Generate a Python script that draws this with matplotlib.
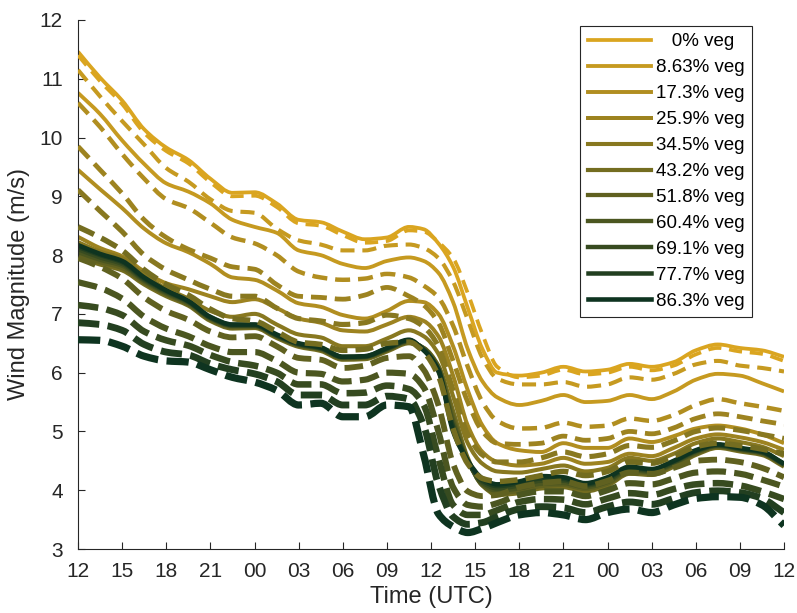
import matplotlib
matplotlib.use("Agg")
import matplotlib.pyplot as plt
from matplotlib.path import Path
from matplotlib.patches import PathPatch
from matplotlib.lines import Line2D
import numpy as np

# ---- data -------------------------------------------------------------
# hours since 00 UTC of day 1
hours = [12, 13.5, 15, 16.5, 18, 19.5, 21, 22.5, 24, 25.5, 27, 28.5, 30, 31.5,
         33, 34.5, 35.5, 36.5, 37.5, 38.5, 39.5, 40.5, 42, 43.5, 45, 46.5, 48,
         49.5, 51, 52.5, 54, 55.5, 57, 58.5, 60]

veg_labels = ["   0% veg", "8.63% veg", "17.3% veg", "25.9% veg", "34.5% veg",
              "43.2% veg", "51.8% veg", "60.4% veg", "69.1% veg", "77.7% veg",
              "86.3% veg"]

# solid curves, one per vegetation fraction
solid_0 = [11.46, 11.02, 10.63, 10.14, 9.83, 9.62, 9.30, 9.06, 9.07, 8.88, 8.60, 8.56, 8.40, 8.27,
           8.30, 8.48, 8.44, 8.20, 7.80, 7.10, 6.40, 6.00, 5.95, 6.00, 6.10, 6.02, 6.05,
           6.15, 6.10, 6.18, 6.38, 6.48, 6.42, 6.38, 6.27]
solid_1 = [10.76, 10.40, 9.95, 9.55, 9.22, 9.08, 8.88, 8.60, 8.48, 8.38, 8.08, 8.00, 7.85, 7.78,
           7.90, 7.96, 7.90, 7.70, 7.20, 6.40, 5.85, 5.58, 5.45, 5.52, 5.62, 5.50, 5.52,
           5.62, 5.55, 5.68, 5.88, 5.98, 5.95, 5.82, 5.68]
solid_2 = [9.45, 9.12, 8.80, 8.45, 8.20, 8.05, 7.85, 7.62, 7.58, 7.40, 7.18, 7.12, 6.98, 6.92,
           7.05, 7.22, 7.20, 7.00, 6.45, 5.70, 5.10, 4.80, 4.68, 4.65, 4.80, 4.72, 4.72,
           4.88, 4.82, 4.92, 5.05, 5.10, 5.05, 4.95, 4.80]
solid_3 = [8.31, 8.12, 7.98, 7.72, 7.52, 7.42, 7.30, 7.20, 7.25, 7.10, 6.92, 6.85, 6.72, 6.70,
           6.82, 6.95, 6.88, 6.62, 5.95, 5.10, 4.65, 4.48, 4.42, 4.45, 4.55, 4.45, 4.48,
           4.62, 4.58, 4.72, 4.88, 4.95, 4.90, 4.82, 4.69]
solid_4 = [8.22, 8.06, 7.95, 7.66, 7.43, 7.26, 7.05, 6.95, 7.00, 6.82, 6.65, 6.60, 6.45, 6.45,
           6.58, 6.72, 6.62, 6.32, 5.60, 4.80, 4.45, 4.32, 4.30, 4.36, 4.42, 4.32, 4.38,
           4.55, 4.50, 4.62, 4.80, 4.88, 4.82, 4.74, 4.58]
solid_5 = [7.96, 7.84, 7.74, 7.50, 7.30, 7.14, 6.88, 6.75, 6.76, 6.59, 6.44, 6.37, 6.22, 6.23,
           6.36, 6.50, 6.42, 6.12, 5.35, 4.55, 4.08, 3.92, 3.95, 4.03, 4.05, 3.98, 4.08,
           4.28, 4.26, 4.40, 4.60, 4.72, 4.66, 4.60, 4.40]
solid_6 = [8.00, 7.88, 7.78, 7.53, 7.33, 7.16, 6.90, 6.77, 6.78, 6.61, 6.46, 6.39, 6.24, 6.25,
           6.38, 6.52, 6.42, 6.10, 5.25, 4.52, 4.08, 3.95, 3.99, 4.07, 4.09, 4.02, 4.11,
           4.31, 4.29, 4.43, 4.62, 4.74, 4.68, 4.62, 4.42]
solid_7 = [8.05, 7.92, 7.82, 7.56, 7.35, 7.18, 6.92, 6.79, 6.79, 6.62, 6.47, 6.40, 6.25, 6.26,
           6.39, 6.53, 6.41, 6.07, 5.17, 4.50, 4.10, 3.99, 4.03, 4.11, 4.12, 4.05, 4.14,
           4.34, 4.31, 4.45, 4.64, 4.75, 4.69, 4.63, 4.43]
solid_8 = [8.10, 7.96, 7.85, 7.58, 7.37, 7.20, 6.93, 6.80, 6.80, 6.63, 6.48, 6.41, 6.26, 6.27,
           6.40, 6.54, 6.40, 6.04, 5.10, 4.50, 4.13, 4.03, 4.08, 4.16, 4.16, 4.08, 4.17,
           4.36, 4.33, 4.47, 4.66, 4.76, 4.70, 4.64, 4.44]
solid_9 = [8.14, 8.00, 7.88, 7.60, 7.39, 7.21, 6.94, 6.81, 6.81, 6.64, 6.49, 6.42, 6.27, 6.28,
           6.41, 6.55, 6.39, 6.02, 5.07, 4.50, 4.16, 4.07, 4.12, 4.20, 4.19, 4.10, 4.20,
           4.38, 4.35, 4.49, 4.67, 4.77, 4.71, 4.65, 4.45]
solid_10 = [8.17, 8.02, 7.90, 7.62, 7.40, 7.22, 6.95, 6.82, 6.82, 6.65, 6.50, 6.43, 6.27, 6.28,
            6.42, 6.56, 6.38, 6.05, 5.00, 4.50, 4.20, 4.10, 4.15, 4.24, 4.22, 4.12, 4.22,
            4.40, 4.36, 4.50, 4.68, 4.78, 4.72, 4.66, 4.45]

# dashed curves, one per vegetation fraction
dashed_0 = [11.40, 10.96, 10.57, 10.08, 9.77, 9.56, 9.24, 9.00, 9.01, 8.82, 8.54, 8.50, 8.34, 8.21,
            8.24, 8.42, 8.40, 8.22, 7.95, 7.35, 6.65, 6.10, 5.92, 5.95, 6.05, 5.97, 6.00,
            6.10, 6.04, 6.12, 6.31, 6.42, 6.36, 6.32, 6.20]
dashed_1 = [11.15, 10.70, 10.28, 9.88, 9.48, 9.25, 8.95, 8.75, 8.72, 8.45, 8.25, 8.18, 8.08, 8.08,
            8.16, 8.18, 8.12, 7.95, 7.55, 6.90, 6.25, 5.90, 5.80, 5.80, 5.84, 5.76, 5.80,
            5.92, 5.88, 5.98, 6.14, 6.20, 6.12, 6.08, 6.02]
dashed_2 = [10.59, 10.18, 9.72, 9.30, 8.95, 8.80, 8.55, 8.30, 8.20, 8.00, 7.72, 7.62, 7.58, 7.60,
            7.68, 7.62, 7.48, 7.28, 6.80, 6.10, 5.50, 5.18, 5.05, 5.06, 5.15, 5.08, 5.10,
            5.22, 5.18, 5.28, 5.45, 5.55, 5.48, 5.42, 5.35]
dashed_3 = [9.85, 9.45, 9.05, 8.60, 8.30, 8.10, 7.95, 7.80, 7.76, 7.50, 7.30, 7.28, 7.25, 7.32,
            7.45, 7.30, 7.15, 6.85, 6.20, 5.50, 5.00, 4.80, 4.78, 4.80, 4.92, 4.85, 4.88,
            5.00, 4.96, 5.06, 5.22, 5.30, 5.25, 5.18, 5.12]
dashed_4 = [9.11, 8.75, 8.40, 8.00, 7.75, 7.58, 7.42, 7.30, 7.30, 7.10, 6.92, 6.88, 6.82, 6.85,
            6.98, 6.92, 6.78, 6.45, 5.70, 4.95, 4.60, 4.48, 4.48, 4.55, 4.65, 4.57, 4.62,
            4.76, 4.73, 4.84, 5.00, 5.06, 5.02, 4.95, 4.88]
dashed_5 = [8.48, 8.30, 8.08, 7.75, 7.50, 7.32, 7.08, 6.92, 6.88, 6.70, 6.52, 6.48, 6.38, 6.40,
            6.50, 6.52, 6.35, 5.95, 5.05, 4.45, 4.20, 4.15, 4.18, 4.25, 4.32, 4.25, 4.32,
            4.48, 4.46, 4.58, 4.74, 4.80, 4.76, 4.70, 4.62]
dashed_6 = [7.95, 7.80, 7.60, 7.28, 7.05, 6.90, 6.70, 6.60, 6.62, 6.45, 6.25, 6.22, 6.08, 6.12,
            6.25, 6.28, 6.05, 5.45, 4.45, 3.98, 3.90, 3.92, 4.05, 4.12, 4.15, 4.07, 4.16,
            4.30, 4.28, 4.38, 4.50, 4.52, 4.48, 4.38, 4.22]
dashed_7 = [7.54, 7.44, 7.26, 6.95, 6.75, 6.62, 6.45, 6.35, 6.35, 6.20, 6.00, 5.98, 5.85, 5.88,
            6.00, 5.98, 5.75, 5.00, 4.05, 3.75, 3.72, 3.78, 3.92, 3.98, 3.98, 3.90, 4.00,
            4.12, 4.10, 4.20, 4.30, 4.32, 4.28, 4.18, 4.06]
dashed_8 = [7.15, 7.10, 6.98, 6.70, 6.55, 6.46, 6.30, 6.18, 6.12, 6.00, 5.80, 5.80, 5.65, 5.66,
            5.78, 5.72, 5.45, 4.55, 3.75, 3.58, 3.58, 3.66, 3.80, 3.85, 3.84, 3.76, 3.86,
            3.95, 3.92, 4.02, 4.10, 4.12, 4.08, 3.98, 3.85]
dashed_9 = [6.85, 6.82, 6.72, 6.48, 6.35, 6.30, 6.15, 6.05, 5.98, 5.85, 5.62, 5.62, 5.45, 5.45,
            5.60, 5.55, 5.10, 4.10, 3.55, 3.42, 3.45, 3.55, 3.68, 3.72, 3.70, 3.62, 3.72,
            3.80, 3.76, 3.86, 3.96, 3.99, 3.96, 3.86, 3.62]
dashed_10 = [6.56, 6.55, 6.45, 6.28, 6.20, 6.18, 6.05, 5.92, 5.84, 5.70, 5.45, 5.48, 5.25, 5.25,
             5.45, 5.42, 4.60, 3.60, 3.38, 3.28, 3.35, 3.45, 3.58, 3.62, 3.58, 3.50, 3.62,
             3.68, 3.62, 3.75, 3.86, 3.89, 3.88, 3.75, 3.40]

solid_series = [solid_0, solid_1, solid_2, solid_3, solid_4, solid_5, solid_6,
                solid_7, solid_8, solid_9, solid_10]
dashed_series = [dashed_0, dashed_1, dashed_2, dashed_3, dashed_4, dashed_5, dashed_6,
                 dashed_7, dashed_8, dashed_9, dashed_10]

tick_hours = list(range(12, 61, 3))
tick_labels = ["%02d" % (h % 24) for h in tick_hours]


def smooth_path(x, y):
    """Bezier path through (x, y) using monotone cubic (Fritsch-Carlson) tangents."""
    x = np.asarray(x, float)
    y = np.asarray(y, float)
    h = np.diff(x)
    d = np.diff(y) / h
    m = np.zeros_like(y)
    m[0], m[-1] = d[0], d[-1]
    for i in range(1, len(x) - 1):
        if d[i - 1] * d[i] <= 0:
            m[i] = 0.0
        else:
            w1 = 2 * h[i] + h[i - 1]
            w2 = h[i] + 2 * h[i - 1]
            m[i] = (w1 + w2) / (w1 / d[i - 1] + w2 / d[i])
    verts = [(x[0], y[0])]
    codes = [Path.MOVETO]
    for i in range(len(x) - 1):
        verts += [(x[i] + h[i] / 3, y[i] + m[i] * h[i] / 3),
                  (x[i + 1] - h[i] / 3, y[i + 1] - m[i + 1] * h[i] / 3),
                  (x[i + 1], y[i + 1])]
        codes += [Path.CURVE4] * 3
    return Path(verts, codes)


plt.rcParams["font.family"] = ["Liberation Sans", "DejaVu Sans"]
plt.rcParams["lines.scale_dashes"] = False

# ---- colours: goldenrod fading to dark green --------------------------
c_start = np.array([218, 165, 32]) / 255.0
c_end = np.array([14, 52, 32]) / 255.0
n = len(solid_series)
colors = [tuple(c_start + (c_end - c_start) * k / (n - 1)) for k in range(n)]
ink = "0.15"

# ---- figure -----------------------------------------------------------
fig = plt.figure(figsize=(7.97, 6.13), dpi=100)
ax = fig.add_axes([0.0979, 0.1044, 0.8858, 0.8630])

handles = []
for k, ys in enumerate(solid_series):
    lw = 2.7 + 0.06 * k
    ax.add_patch(PathPatch(smooth_path(hours, ys), fill=False, edgecolor=colors[k],
                           lw=lw, capstyle="butt", joinstyle="round", zorder=2 + 0.01 * k))
    handles.append(Line2D([], [], color=colors[k], lw=lw))

for k, ys in enumerate(dashed_series):
    lw = 2.7 + 0.25 * k
    on, off = 9.5 + 0.65 * k, 5.6 + 0.05 * k
    ax.add_patch(PathPatch(smooth_path(hours, ys), fill=False, edgecolor=colors[k],
                           lw=lw, linestyle=(0, (on, off)), capstyle="butt",
                           joinstyle="round", zorder=3 + 0.01 * k))

ax.set_xlim(12, 60)
ax.set_ylim(3, 12)
ax.set_xticks(tick_hours)
ax.set_xticklabels(tick_labels)
ax.set_yticks(range(3, 13))

for side in ("top", "right"):
    ax.spines[side].set_visible(False)
for side in ("left", "bottom"):
    ax.spines[side].set_color(ink)
    ax.spines[side].set_linewidth(0.8)
ax.tick_params(direction="in", length=5, width=0.8, color=ink,
               labelcolor=ink, labelsize=15)
ax.tick_params(axis="x", pad=9)
ax.tick_params(axis="y", pad=11)

ax.set_xlabel("Time (UTC)", fontsize=17, color=ink, labelpad=4)
ax.set_ylabel("Wind Magnitude (m/s)", fontsize=17, color=ink, labelpad=7)

leg = ax.legend(handles, veg_labels, loc="upper right", bbox_to_anchor=(0.955, 0.989),
                borderaxespad=0, fancybox=False, framealpha=1, edgecolor=ink,
                fontsize=13.5, handlelength=3.36, handletextpad=0.28, labelspacing=0.47,
                borderpad=0.4)
leg.get_frame().set_linewidth(0.8)

fig.savefig("out.png", dpi=100)
